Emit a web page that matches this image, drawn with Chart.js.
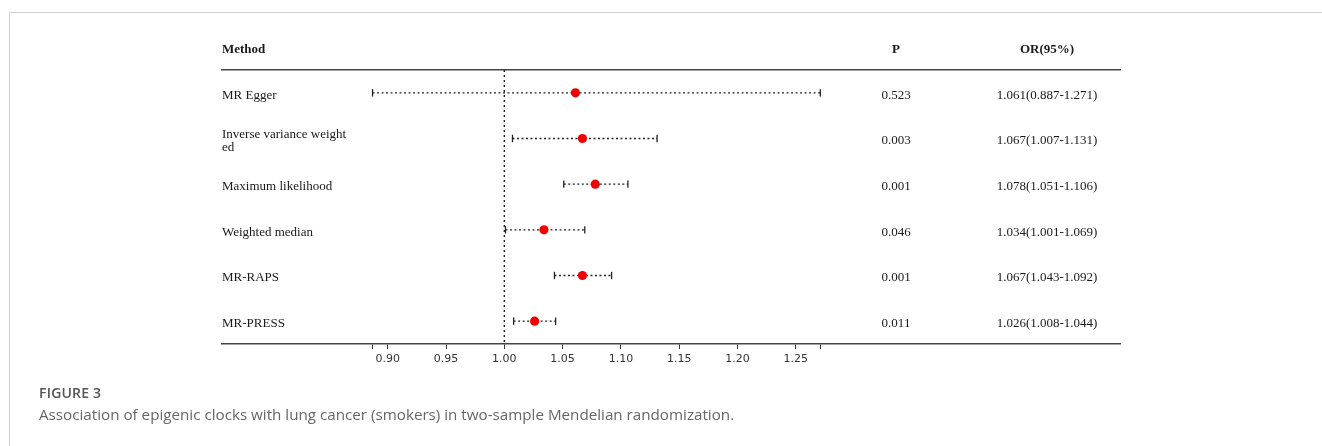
<!DOCTYPE html>
<html>
<head>
<meta charset="utf-8">
<script src="https://cdn.jsdelivr.net/npm/chart.js@4.4.1/dist/chart.umd.min.js"></script>
<style>
    html, body { margin: 0; padding: 0; background: #fff; }
    body { width: 1322px; height: 446px; position: relative; overflow: hidden; }
    .frame {
        position: absolute; left: 9px; top: 12px; right: -5px; bottom: -5px;
        border-left: 1.5px solid #cfcfcf; border-top: 1.5px solid #cfcfcf;
    }
    #forest { position: absolute; left: 0; top: 0; }
    .fig-label {
        position: absolute; left: 39px; top: 383px;
        font: 600 14px "Open Sans", sans-serif; color: #555; letter-spacing: 0.2px;
    }
    .fig-caption {
        position: absolute; left: 39px; top: 404px;
        font: 400 15.2px "Open Sans", sans-serif; color: #666;
    }
</style>
</head>
<body>
<div class="frame"></div>
<canvas id="forest" width="1322" height="446"></canvas>
<div class="fig-label">FIGURE 3</div>
<div class="fig-caption">Association of epigenic clocks with lung cancer (smokers) in two-sample Mendelian randomization.</div>

<script>
// Données
const methods = [
    'MR Egger',
    ['Inverse variance weight', 'ed'],
    'Maximum likelihood',
    'Weighted median',
    'MR-RAPS',
    'MR-PRESS'
];
const orValues = [1.061, 1.067, 1.078, 1.034, 1.067, 1.026];
const lowerCI = [0.887, 1.007, 1.051, 1.001, 1.043, 1.008];
const upperCI = [1.271, 1.131, 1.106, 1.069, 1.092, 1.044];
const pValues = ['0.523', '0.003', '0.001', '0.046', '0.001', '0.011'];
const tickValues = [0.90, 0.95, 1.00, 1.05, 1.10, 1.15, 1.20, 1.25];

const headers = { method: 'Method', p: 'P', or: 'OR(95%)' };

// Mise en page
const AREA_LEFT = 222;
const AREA_RIGHT = 1120;
const AREA_TOP = 70;
const AREA_BOTTOM = 344;
const X_MIN = 0.7579;
const X_MAX = 1.5280;
const COL_P = 896;
const COL_OR = 1047;

const lowEnd = Math.min(...lowerCI);
const highEnd = Math.max(...upperCI);
const axisTicks = [lowEnd, ...tickValues, highEnd];

const ciDatasets = methods.map((m, i) => ({
    type: 'line',
    data: [{ x: lowerCI[i], y: i }, { x: upperCI[i], y: i }],
    borderColor: '#222',
    borderWidth: 1.4,
    borderDash: [2, 2.5],
    pointStyle: 'line',
    pointRotation: 90,
    pointRadius: 3.7,
    pointBorderWidth: 1.3,
    pointBorderColor: '#222',
    order: 2
}));

const tablePlugin = {
    id: 'tablePlugin',
    afterDraw(chart) {
        const ctx = chart.ctx;
        const yScale = chart.scales.y;
        const left = chart.chartArea.left;
        ctx.save();
        ctx.fillStyle = '#1a1a1a';
        ctx.textBaseline = 'middle';

        // En-têtes
        ctx.font = 'bold 13px "Liberation Serif", serif';
        ctx.textAlign = 'left';
        ctx.fillText(headers.method, left, 50);
        ctx.textAlign = 'center';
        ctx.fillText(headers.p, COL_P, 50);
        ctx.fillText(headers.or, COL_OR, 50);

        // Lignes du tableau
        ctx.font = '13px "Liberation Serif", serif';
        methods.forEach((m, i) => {
            const yc = yScale.getPixelForValue(i) + 2.5;
            const lines = Array.isArray(m) ? m : [m];
            const lh = 13;
            const start = yc - (lines.length - 1) * lh / 2;
            ctx.textAlign = 'left';
            lines.forEach((t, k) => ctx.fillText(t, left, start + k * lh));
            ctx.textAlign = 'center';
            ctx.fillText(pValues[i], COL_P, yc);
            const orText = `${orValues[i].toFixed(3)}(${lowerCI[i].toFixed(3)}-${upperCI[i].toFixed(3)})`;
            ctx.fillText(orText, COL_OR, yc);
        });
        ctx.restore();
    }
};

const ctx = document.getElementById('forest').getContext('2d');
new Chart(ctx, {
    data: {
        datasets: [
            {
                type: 'scatter',
                data: orValues.map((v, i) => ({ x: v, y: i })),
                backgroundColor: '#f00000',
                borderColor: '#f00000',
                pointRadius: 4.6,
                pointBorderWidth: 0,
                order: 0
            },
            ...ciDatasets,
            {
                type: 'line',
                data: [{ x: 1, y: -0.5 }, { x: 1, y: 5.5 }],
                borderColor: '#222',
                borderWidth: 1.4,
                borderDash: [2, 3],
                pointRadius: 0,
                order: 3
            }
        ]
    },
    options: {
        responsive: false,
        animation: false,
        layout: {
            padding: { left: AREA_LEFT, right: 1322 - AREA_RIGHT, top: 0, bottom: 0 }
        },
        plugins: {
            legend: { display: false },
            tooltip: { enabled: false }
        },
        scales: {
            x: {
                type: 'linear',
                position: 'bottom',
                min: X_MIN,
                max: X_MAX,
                afterBuildTicks(scale) {
                    scale.ticks = axisTicks.map(v => ({ value: v }));
                },
                afterFit(scale) {
                    scale.height = 446 - AREA_BOTTOM;
                },
                ticks: {
                    autoSkip: false,
                    maxRotation: 0,
                    padding: 4,
                    color: '#333',
                    font: { family: '"DejaVu Sans", sans-serif', size: 11 },
                    callback: (v) => tickValues.some(t => Math.abs(t - v) < 1e-9) ? Number(v).toFixed(2) : ''
                },
                grid: {
                    display: true,
                    drawOnChartArea: false,
                    drawTicks: true,
                    tickLength: 5,
                    color: '#333',
                    lineWidth: 1
                },
                border: { display: true, color: '#444', width: 1.5 }
            },
            x2: {
                type: 'linear',
                position: 'top',
                min: X_MIN,
                max: X_MAX,
                afterFit(scale) {
                    scale.height = AREA_TOP;
                },
                ticks: { display: false },
                grid: { display: false, drawTicks: false },
                border: { display: true, color: '#444', width: 1.5 }
            },
            y: {
                type: 'linear',
                display: false,
                min: -0.5,
                max: 5.5,
                reverse: true
            }
        }
    },
    plugins: [tablePlugin]
});
</script>
</body>
</html>
